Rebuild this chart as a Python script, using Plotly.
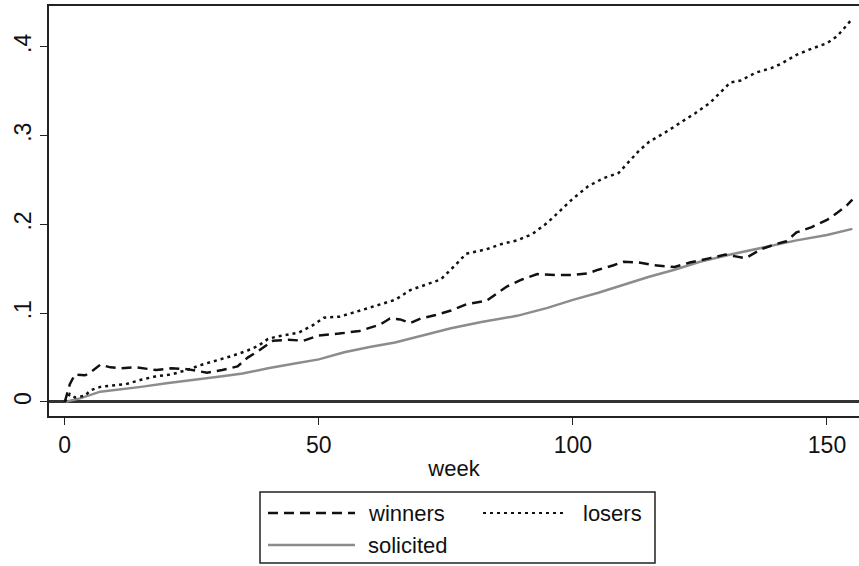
import plotly.graph_objects as go

# ---- data ----
sol_week = [0, 3, 7, 11, 15, 20, 23, 27, 31, 35, 40, 45, 50, 55, 60, 65, 70, 76, 82, 89,
            95, 100, 105, 110, 115, 120, 125, 131, 137, 144, 150, 155]
sol_val = [0, 0.004, 0.0116, 0.014, 0.017, 0.021, 0.023, 0.026, 0.029, 0.032, 0.038, 0.043,
           0.048, 0.056, 0.062, 0.067, 0.074, 0.083, 0.090, 0.097, 0.106, 0.115, 0.123, 0.132,
           0.141, 0.149, 0.158, 0.166, 0.173, 0.182, 0.188, 0.195]

win_week = [0, 1, 2, 4, 5, 7, 9, 11, 14, 18, 21, 24, 28, 31, 34, 36, 38, 41, 44, 47, 50, 54,
            58, 62, 64, 66, 68, 70, 73, 76, 79, 83, 85, 87, 90, 93, 97, 100, 103, 105, 108,
            110, 113, 116, 120, 123, 127, 130, 132, 134, 137, 140, 142, 144, 147, 150, 152,
            154, 155]
win_val = [0, 0.02, 0.031, 0.030, 0.033, 0.042, 0.039, 0.038, 0.039, 0.036, 0.038, 0.037,
           0.033, 0.036, 0.040, 0.050, 0.057, 0.069, 0.070, 0.069, 0.075, 0.077, 0.080, 0.087,
           0.094, 0.093, 0.089, 0.094, 0.098, 0.103, 0.110, 0.114, 0.122, 0.130, 0.138, 0.144,
           0.143, 0.143, 0.145, 0.149, 0.154, 0.158, 0.157, 0.154, 0.152, 0.157, 0.162, 0.166,
           0.164, 0.162, 0.172, 0.178, 0.181, 0.191, 0.197, 0.205, 0.213, 0.222, 0.228]

los_week = [0, 1, 2, 4, 5, 7, 10, 12, 15, 18, 21, 24, 27, 30, 33, 36, 38, 40, 42, 46, 49, 51,
            54, 57, 60, 63, 65, 68, 71, 74, 77, 79, 83, 86, 89, 92, 95, 98, 100, 103, 106, 109,
            111, 113, 115, 118, 121, 124, 127, 129, 131, 133, 136, 139, 141, 144, 147, 150,
            152, 154, 155]
los_val = [0, 0.009, 0.005, 0.007, 0.013, 0.017, 0.019, 0.020, 0.025, 0.029, 0.031, 0.036,
           0.042, 0.047, 0.052, 0.058, 0.063, 0.071, 0.074, 0.078, 0.087, 0.095, 0.096, 0.101,
           0.106, 0.111, 0.115, 0.126, 0.132, 0.138, 0.155, 0.167, 0.172, 0.178, 0.182, 0.189,
           0.202, 0.218, 0.229, 0.243, 0.252, 0.258, 0.27, 0.283, 0.293, 0.303, 0.314, 0.325,
           0.337, 0.348, 0.36, 0.362, 0.371, 0.376, 0.381, 0.391, 0.398, 0.404, 0.412, 0.425,
           0.432]

y_tickvals = [0, 0.1, 0.2, 0.3, 0.4]
y_ticktext = ["0", ".1", ".2", ".3", ".4"]
x_tickvals = [0, 50, 100, 150]
x_ticktext = ["0", "50", "100", "150"]

FONT = "Liberation Sans, Arial, sans-serif"
W, H = 859, 566
ML, MR, MT, MB = 49, 0, 6, 150
PW, PH = W - ML - MR, H - MT - MB


def px(xp):
    return (xp - ML) / PW


def py(yp):
    return (H - MB - yp) / PH


fig = go.Figure()
fig.add_trace(go.Scatter(x=sol_week, y=sol_val, mode="lines", name="solicited",
                         line=dict(color="#8c8c8c", width=2.5)))
fig.add_trace(go.Scatter(x=win_week, y=win_val, mode="lines", name="winners",
                         line=dict(color="#111111", width=2.5, dash="10px,6px")))
fig.add_trace(go.Scatter(x=los_week, y=los_val, mode="lines", name="losers",
                         line=dict(color="#111111", width=2.5, dash="3px,4px")))

fig.update_layout(
    width=W, height=H,
    margin=dict(l=ML, r=MR, t=MT, b=MB),
    paper_bgcolor="white", plot_bgcolor="white",
    showlegend=False,
    font=dict(family=FONT, color="#111111", size=22),
    xaxis=dict(range=[-3.1, 156.3], tickvals=x_tickvals, ticktext=x_ticktext,
               showgrid=False, zeroline=False, showline=True, mirror=True,
               linecolor="#222222", linewidth=2, ticks="outside", ticklen=7,
               tickwidth=1.2, tickcolor="#222222", tickfont=dict(size=23),
               title=dict(text="week", font=dict(size=22), standoff=4)),
    yaxis=dict(range=[-0.0158, 0.446], tickvals=y_tickvals, ticktext=y_ticktext,
               showgrid=False, zeroline=True, zerolinecolor="#333333", zerolinewidth=2.5,
               showline=True, mirror=False, linecolor="#222222", linewidth=2,
               ticks="outside", ticklen=7, tickwidth=1.2, tickcolor="#222222",
               tickangle=-90, tickfont=dict(size=23)),
)

# legend box drawn manually (Stata style)
shapes = [
    dict(type="rect", xref="paper", yref="paper", x0=px(260), x1=px(655), y0=py(563), y1=py(492),
         line=dict(color="#222222", width=1.5), fillcolor="white"),
    dict(type="line", xref="paper", yref="paper", x0=px(268), x1=px(355), y0=py(513), y1=py(513),
         line=dict(color="#111111", width=2.5, dash="10px,6px")),
    dict(type="line", xref="paper", yref="paper", x0=px(483), x1=px(565), y0=py(513), y1=py(513),
         line=dict(color="#111111", width=2, dash="3px,4px")),
    dict(type="line", xref="paper", yref="paper", x0=px(268), x1=px(355), y0=py(545), y1=py(545),
         line=dict(color="#8c8c8c", width=2.5)),
]
annotations = [
    dict(text="winners", xref="paper", yref="paper", x=px(366), y=py(513), xanchor="left",
         yanchor="middle", showarrow=False, font=dict(size=22)),
    dict(text="losers", xref="paper", yref="paper", x=px(581), y=py(513), xanchor="left",
         yanchor="middle", showarrow=False, font=dict(size=22)),
    dict(text="solicited", xref="paper", yref="paper", x=px(366), y=py(545), xanchor="left",
         yanchor="middle", showarrow=False, font=dict(size=22)),
]
fig.update_layout(shapes=shapes, annotations=annotations)

fig.write_html("out.html")
